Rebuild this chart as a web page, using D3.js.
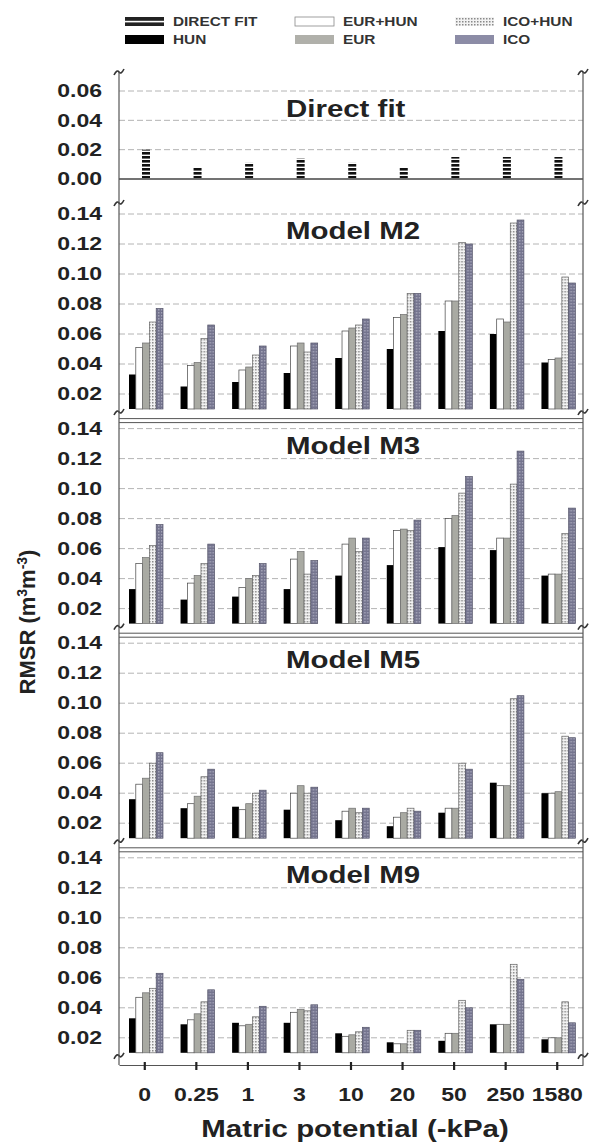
<!DOCTYPE html>
<html lang="en">
<head>
<meta charset="UTF-8">
<title>RMSR by matric potential</title>
<script src="https://d3js.org/d3.v7.min.js"></script>
<style>
  body { margin: 0; background: #fff; }
</style>
</head>
<body>
<div id="chart"></div>
<script>
// ---- data ----
const categories = ['0', '0.25', '1', '3', '10', '20', '50', '250', '1580'];
const series = ['HUN', 'EUR+HUN', 'EUR', 'ICO+HUN', 'ICO'];
const panelNames = ['Model M2', 'Model M3', 'Model M5', 'Model M9'];
const modelTicks = [0.02, 0.04, 0.06, 0.08, 0.10, 0.12, 0.14];
const directTicks = [0.00, 0.02, 0.04, 0.06];

const directFit = [0.020, 0.008, 0.011, 0.014, 0.011, 0.008, 0.015, 0.015, 0.015];

const m2Hun    = [0.033, 0.025, 0.028, 0.034, 0.044, 0.050, 0.062, 0.060, 0.041];
const m2EurHun = [0.051, 0.039, 0.036, 0.052, 0.062, 0.071, 0.082, 0.070, 0.043];
const m2Eur    = [0.054, 0.041, 0.038, 0.054, 0.064, 0.073, 0.082, 0.068, 0.044];
const m2IcoHun = [0.068, 0.057, 0.046, 0.048, 0.066, 0.087, 0.121, 0.134, 0.098];
const m2Ico    = [0.077, 0.066, 0.052, 0.054, 0.070, 0.087, 0.120, 0.136, 0.094];

const m3Hun    = [0.033, 0.026, 0.028, 0.033, 0.042, 0.049, 0.061, 0.059, 0.042];
const m3EurHun = [0.050, 0.037, 0.034, 0.053, 0.063, 0.072, 0.080, 0.067, 0.043];
const m3Eur    = [0.054, 0.042, 0.040, 0.058, 0.067, 0.073, 0.082, 0.067, 0.043];
const m3IcoHun = [0.062, 0.050, 0.042, 0.043, 0.058, 0.072, 0.097, 0.103, 0.070];
const m3Ico    = [0.076, 0.063, 0.050, 0.052, 0.067, 0.079, 0.108, 0.125, 0.087];

const m5Hun    = [0.036, 0.030, 0.031, 0.029, 0.022, 0.018, 0.027, 0.047, 0.040];
const m5EurHun = [0.046, 0.033, 0.029, 0.040, 0.028, 0.024, 0.030, 0.045, 0.040];
const m5Eur    = [0.050, 0.038, 0.033, 0.045, 0.030, 0.027, 0.030, 0.045, 0.041];
const m5IcoHun = [0.060, 0.051, 0.040, 0.040, 0.027, 0.030, 0.060, 0.103, 0.078];
const m5Ico    = [0.067, 0.056, 0.042, 0.044, 0.030, 0.028, 0.056, 0.105, 0.077];

const m9Hun    = [0.033, 0.029, 0.030, 0.030, 0.023, 0.017, 0.018, 0.029, 0.019];
const m9EurHun = [0.047, 0.032, 0.028, 0.037, 0.021, 0.016, 0.023, 0.029, 0.020];
const m9Eur    = [0.050, 0.036, 0.029, 0.039, 0.022, 0.016, 0.023, 0.029, 0.020];
const m9IcoHun = [0.053, 0.044, 0.034, 0.038, 0.024, 0.025, 0.045, 0.069, 0.044];
const m9Ico    = [0.063, 0.052, 0.041, 0.042, 0.027, 0.025, 0.040, 0.059, 0.030];

const models = [
  [m2Hun, m2EurHun, m2Eur, m2IcoHun, m2Ico],
  [m3Hun, m3EurHun, m3Eur, m3IcoHun, m3Ico],
  [m5Hun, m5EurHun, m5Eur, m5IcoHun, m5Ico],
  [m9Hun, m9EurHun, m9Eur, m9IcoHun, m9Ico]
];

// ---- layout ----
const W = 594, H = 1146;
const left = 119, right = 583;
const FONT = "'Liberation Sans', Arial, sans-serif";
const SX = 1.28;   // the original figure is stretched horizontally

const svg = d3.select("#chart").append("svg")
    .attr("width", W).attr("height", H)
    .style("background", "#fff");

// patterns
const defs = svg.append("defs");
const pDirect = defs.append("pattern").attr("id", "pDirect")
    .attr("patternUnits", "userSpaceOnUse").attr("width", 8).attr("height", 4);
pDirect.append("rect").attr("width", 8).attr("height", 4).attr("fill", "#fff");
pDirect.append("rect").attr("width", 8).attr("height", 2.6).attr("fill", "#111");

const pIcoHun = defs.append("pattern").attr("id", "pIcoHun")
    .attr("patternUnits", "userSpaceOnUse").attr("width", 3).attr("height", 3);
pIcoHun.append("rect").attr("width", 3).attr("height", 3).attr("fill", "#f3f3f3");
pIcoHun.append("rect").attr("width", 1.5).attr("height", 1.5).attr("fill", "#8a8a8a");

const pIco = defs.append("pattern").attr("id", "pIco")
    .attr("patternUnits", "userSpaceOnUse").attr("width", 3).attr("height", 3);
pIco.append("rect").attr("width", 3).attr("height", 3).attr("fill", "#74748e");
pIco.append("rect").attr("width", 1.5).attr("height", 1.5).attr("fill", "#a4a4b8");

const fills = {
  'HUN': '#000',
  'EUR+HUN': '#fff',
  'EUR': '#a9aaa3',
  'ICO+HUN': 'url(#pIcoHun)',
  'ICO': 'url(#pIco)'
};
const strokes = {
  'HUN': 'none',
  'EUR+HUN': '#444',
  'EUR': '#6d6d6d',
  'ICO+HUN': '#666',
  'ICO': '#55556a'
};

function label(g, x, y, str, size, anchor) {
  return g.append("text")
      .attr("transform", `translate(${x},${y}) scale(${SX},1)`)
      .attr("text-anchor", anchor || "start")
      .attr("font-family", FONT)
      .attr("font-weight", "bold")
      .attr("font-size", size)
      .attr("fill", "#222")
      .text(str);
}

function breakMark(x, y) {
  svg.append("path")
      .attr("d", `M${x - 5},${y + 3} Q${x - 2},${y - 3} ${x},${y} Q${x + 2},${y + 3} ${x + 5},${y - 3}`)
      .attr("fill", "none").attr("stroke", "#333").attr("stroke-width", 1.6);
}

const x0 = d3.scaleBand().domain(categories).range([left, right]).padding(0);
const x1 = d3.scaleBand().domain(series).range([10, 44]);

function yAxisLabels(g, y, ticks) {
  const ax = g.append("g").attr("transform", `translate(${left},0)`)
      .call(d3.axisLeft(y).tickValues(ticks).tickFormat(d3.format(".2f"))
        .tickSize(0).tickPadding(13.3));
  ax.select(".domain").remove();
  ax.selectAll("text")
      .attr("transform", `scale(${SX},1)`)
      .attr("font-family", FONT).attr("font-weight", "bold")
      .attr("font-size", 18).attr("fill", "#222");
}

function grid(g, y, ticks) {
  g.selectAll("line.grid").data(ticks).join("line")
      .attr("class", "grid")
      .attr("x1", left).attr("x2", right)
      .attr("y1", d => y(d)).attr("y2", d => y(d))
      .attr("stroke", "#b4b4b4").attr("stroke-width", 1)
      .attr("stroke-dasharray", "6,3");
}

// ---- direct fit panel ----
const yD = d3.scaleLinear().domain([0, 0.06]).range([179, 91]);
const gD = svg.append("g");
grid(gD, yD, directTicks.filter(d => d > 0));
gD.append("line").attr("x1", left).attr("x2", right)
    .attr("y1", yD(0)).attr("y2", yD(0))
    .attr("stroke", "#444").attr("stroke-width", 1.3);
gD.selectAll("rect.df").data(directFit).join("rect")
    .attr("class", "df")
    .attr("x", (d, i) => x0(categories[i]) + 23)
    .attr("width", 8)
    .attr("y", d => yD(d))
    .attr("height", d => yD(0) - yD(d))
    .attr("fill", "url(#pDirect)");
yAxisLabels(gD, yD, directTicks);
label(gD, 286, 117, "Direct fit", 23, "start");
breakMark(left, 72); breakMark(right, 72);

// ---- model panels ----
models.forEach((vals, i) => {
  const top = 214 + 214.6 * i;
  const base = top + 195;
  const y = d3.scaleLinear().domain([0.01, 0.14]).range([base, top]);
  const g = svg.append("g");

  if (i > 0) {
    [top - 10, top - 6].forEach(yy => {
      g.append("line").attr("x1", left).attr("x2", right)
          .attr("y1", yy).attr("y2", yy)
          .attr("stroke", "#555").attr("stroke-width", 1);
    });
  } else {
    breakMark(left, top - 11); breakMark(right, top - 11);
  }

  grid(g, y, modelTicks);

  const rows = categories.map((c, ci) => ({
    cat: c,
    bars: series.map((s, si) => ({ s: s, v: vals[si][ci] }))
  }));

  const grp = g.selectAll("g.cat").data(rows).join("g")
      .attr("class", "cat")
      .attr("transform", d => `translate(${x0(d.cat)},0)`);

  grp.selectAll("rect").data(d => d.bars).join("rect")
      .attr("x", d => x1(d.s))
      .attr("width", x1.bandwidth())
      .attr("y", d => y(d.v))
      .attr("height", d => y(0.01) - y(d.v))
      .attr("fill", d => fills[d.s])
      .attr("stroke", d => strokes[d.s])
      .attr("stroke-width", 0.7);

  yAxisLabels(g, y, modelTicks);
  label(g, 286, top + 25, panelNames[i], 23, "start");
  breakMark(left, base + 3); breakMark(right, base + 3);
});

// ---- frame verticals ----
[left, right].forEach(xx => {
  svg.append("line").attr("x1", xx).attr("x2", xx)
      .attr("y1", 72).attr("y2", 1065)
      .attr("stroke", "#555").attr("stroke-width", 1.2);
});

// ---- x axis ----
const xAxis = svg.append("g").attr("transform", "translate(0,1065)")
    .call(d3.axisBottom(x0).tickSizeInner(5).tickSizeOuter(0).tickPadding(0));
xAxis.select(".domain").attr("stroke", "#555").attr("stroke-width", 1.2);
xAxis.selectAll(".tick line").attr("stroke", "#222").attr("stroke-width", 2.2).attr("y1", -3);
xAxis.selectAll("text")
    .attr("y", 36).attr("dy", null)
    .attr("transform", `scale(${SX},1)`)
    .attr("font-family", FONT).attr("font-weight", "bold")
    .attr("font-size", 18).attr("fill", "#222");

label(svg, 355, 1137, "Matric potential (-kPa)", 23, "middle");

// ---- y axis title ----
const yt = svg.append("text")
    .attr("transform", "translate(35,622) rotate(-90)")
    .attr("text-anchor", "middle")
    .attr("font-family", FONT).attr("font-weight", "bold")
    .attr("font-size", 22).attr("fill", "#222");
yt.append("tspan").text("RMSR (m");
yt.append("tspan").attr("dy", -8).attr("font-size", 14).text("3");
yt.append("tspan").attr("dy", 8).text("m");
yt.append("tspan").attr("dy", -8).attr("font-size", 14).text("-3");
yt.append("tspan").attr("dy", 8).text(")");

// ---- legend ----
const legendItems = [
  { key: 'DIRECT FIT', x: 125, y: 17 },
  { key: 'HUN', x: 125, y: 35 },
  { key: 'EUR+HUN', x: 295, y: 17 },
  { key: 'EUR', x: 295, y: 35 },
  { key: 'ICO+HUN', x: 455, y: 17 },
  { key: 'ICO', x: 455, y: 35 }
];
const legendFill = {
  'DIRECT FIT': '#222', 'HUN': '#000', 'EUR+HUN': '#fff',
  'EUR': '#b0b0aa', 'ICO+HUN': 'url(#pIcoHun)', 'ICO': '#8c8ca6'
};
const lg = svg.append("g");
legendItems.forEach(it => {
  lg.append("rect").attr("x", it.x).attr("y", it.y).attr("width", 39).attr("height", 9)
      .attr("fill", legendFill[it.key])
      .attr("stroke", it.key === 'EUR+HUN' ? '#888' : 'none').attr("stroke-width", 0.8);
  if (it.key === 'DIRECT FIT') {
    lg.append("rect").attr("x", it.x).attr("y", it.y + 3.8).attr("width", 39).attr("height", 1.6)
        .attr("fill", "#fff");
  }
  label(lg, it.x + 48, it.y + 9, it.key, 12, "start").attr("fill", "#333");
});
</script>
</body>
</html>
